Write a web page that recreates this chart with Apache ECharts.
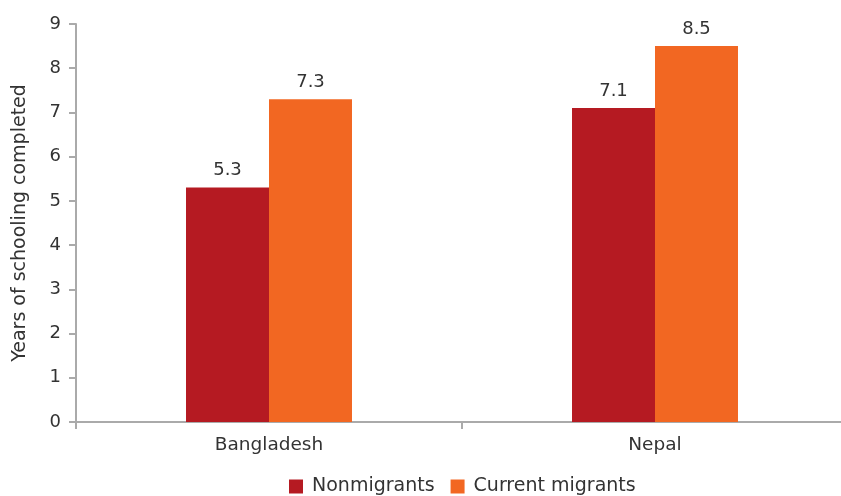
<!DOCTYPE html>
<html><head><meta charset="utf-8">
<script src="https://cdn.jsdelivr.net/npm/echarts@6/dist/echarts.min.js"></script>
<style>html,body{margin:0;padding:0;background:#fff}#c{width:841px;height:496px}</style>
</head><body><div id="c"></div>
<script>
const categories = ["Bangladesh", "Nepal"];
const nonmigrants = [5.3, 7.1];
const currentMigrants = [7.3, 8.5];
const yTicks = [0, 9, 1];
const font = "'DejaVu Sans', sans-serif";
const chart = echarts.init(document.getElementById('c'));
chart.setOption({
  animation: false,
  textStyle: {fontFamily: font},
  grid: {left: 76, width: 772, top: 24, bottom: 74, outerBoundsMode: 'none', containLabel: false},
  legend: {
    top: 477, left: 289, padding: 0, itemWidth: 14, itemHeight: 14, itemGap: 16,
    icon: 'rect',
    textStyle: {fontSize: 19, color: '#333', fontFamily: font, padding: [0, 0, 0, 4]},
    data: ['Nonmigrants', 'Current migrants']
  },
  xAxis: {
    type: 'category', data: categories,
    axisLine: {lineStyle: {color: '#aaa', width: 2}},
    axisTick: {show: true, length: 7, lineStyle: {color: '#aaa', width: 2}},
    axisLabel: {fontSize: 18.5, color: '#333', margin: 14, fontFamily: font}
  },
  yAxis: {
    type: 'value', min: yTicks[0], max: yTicks[1], interval: yTicks[2],
    name: 'Years of schooling completed', nameLocation: 'middle', nameGap: 46,
    nameTextStyle: {fontSize: 19, color: '#333', fontFamily: font},
    axisLine: {show: true, lineStyle: {color: '#aaa', width: 2}},
    axisTick: {show: true, length: 7, lineStyle: {color: '#aaa', width: 2}},
    splitLine: {show: false},
    axisLabel: {fontSize: 18, color: '#333', margin: 15, fontFamily: font}
  },
  series: [
    {name: 'Nonmigrants', type: 'bar', data: nonmigrants, barWidth: '21.5%', barGap: '0%',
     itemStyle: {color: '#B51A22'},
     label: {show: true, position: 'top', fontSize: 18, color: '#333', distance: 8, fontFamily: font}},
    {name: 'Current migrants', type: 'bar', data: currentMigrants, barWidth: '21.5%', barGap: '0%',
     itemStyle: {color: '#F26722'},
     label: {show: true, position: 'top', fontSize: 18, color: '#333', distance: 8, fontFamily: font}}
  ]
});
</script></body></html>
